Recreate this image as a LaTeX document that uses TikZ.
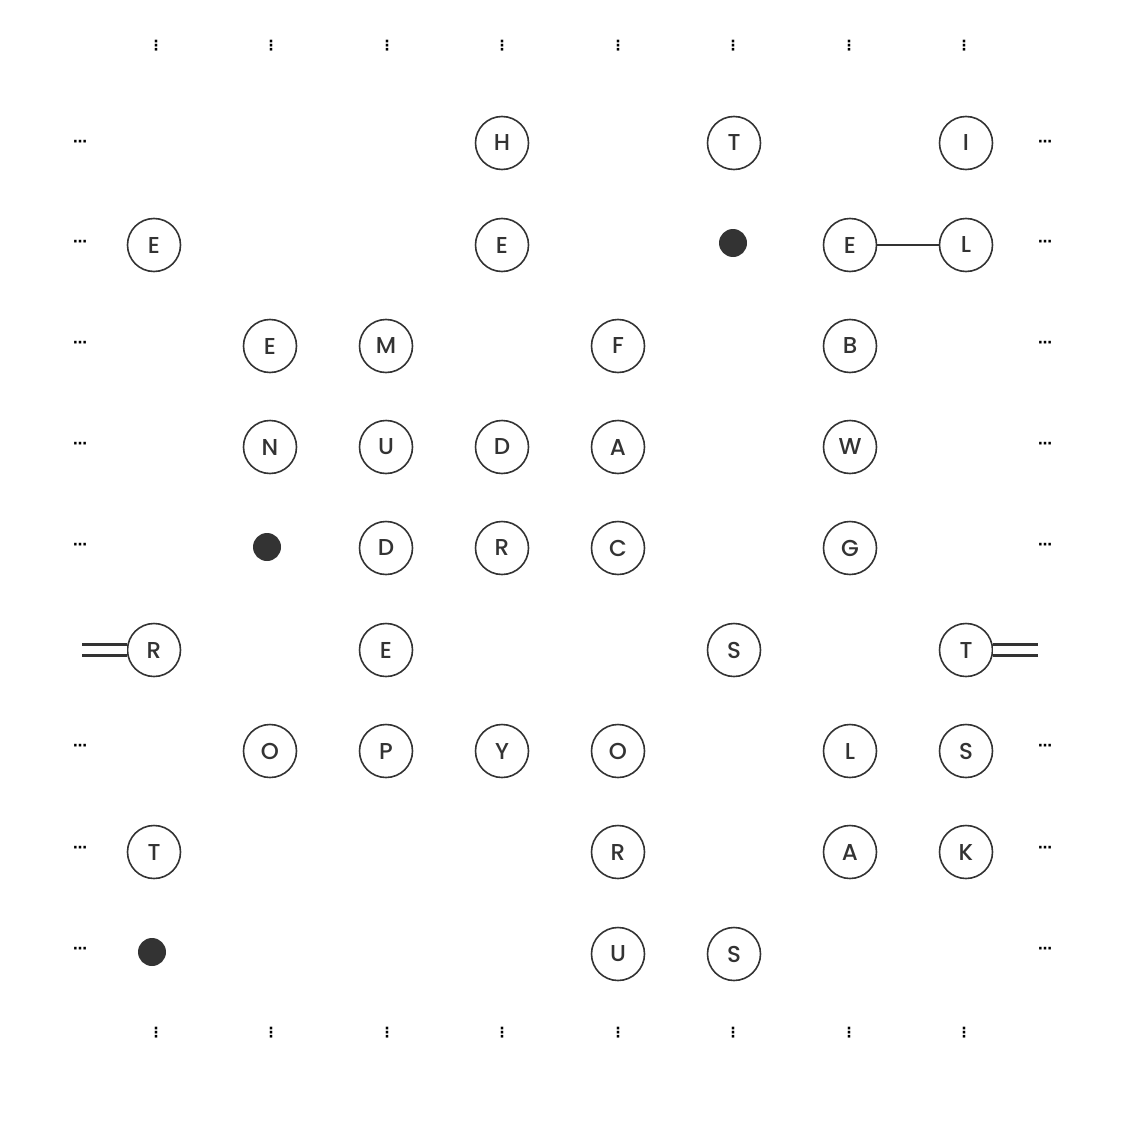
\documentclass[tikz,border=0pt]{standalone}
\usepackage{fontspec}
\setmainfont{Poppins}
\newfontfamily\letterfont{Poppins Medium}
\newfontfamily\dotfont{DejaVu Sans}[BoldFont=* Bold]
\definecolor{ink}{HTML}{333333}
\begin{document}
\begin{tikzpicture}[x=1pt,y=-1pt,
  letter/.style={circle,draw=ink,line width=1.6pt,minimum size=53pt,inner sep=0pt,text=ink,font=\letterfont\fontsize{23}{23}\selectfont},
  blob/.style={circle,fill=ink,minimum size=28pt,inner sep=0pt},
  vdots/.style={inner sep=0pt,text=black,font=\dotfont\bfseries\fontsize{14}{14}\selectfont},
  link/.style={draw=ink,line width=2.4pt},
  twin/.style={draw=ink,double=white,line width=2.6pt,double distance=8.5pt}]
\useasboundingbox (0,0) rectangle (1134,1134);
% top and bottom vertical ellipses
\foreach \i [count=\k from 0] in {156,271,387,502,618,733,849,964}{
  \node[vdots] (vt\k) at (\i,46) {⋮};
  \node[vdots] (vb\k) at (\i,1033) {⋮};
}
% side horizontal ellipses
\foreach \j [count=\k from 0] in {143,243,344,445,546,747,849,950}{
  \node[vdots] (hl\k) at (80,\j) {⋯};
  \node[vdots] (hr\k) at (1045,\j) {⋯};
}
% row 0
\node[letter] (r0c3) at (502,143) {H};
\node[letter] (r0c5) at (734,143) {T};
\node[letter] (r0c7) at (966,143) {I};
% row 1
\node[letter] (r1c0) at (154,245) {E};
\node[letter] (r1c3) at (502,245) {E};
\node[blob] (d1) at (733,243) {};
\node[letter] (r1c6) at (850,245) {E};
\node[letter] (r1c7) at (966,245) {L};
% row 2
\node[letter] (r2c1) at (270,346) {E};
\node[letter] (r2c2) at (386,346) {M};
\node[letter] (r2c4) at (618,346) {F};
\node[letter] (r2c6) at (850,346) {B};
% row 3
\node[letter] (r3c1) at (270,447) {N};
\node[letter] (r3c2) at (386,447) {U};
\node[letter] (r3c3) at (502,447) {D};
\node[letter] (r3c4) at (618,447) {A};
\node[letter] (r3c6) at (850,447) {W};
% row 4
\node[blob] (d2) at (267,547) {};
\node[letter] (r4c2) at (386,548) {D};
\node[letter] (r4c3) at (502,548) {R};
\node[letter] (r4c4) at (618,548) {C};
\node[letter] (r4c6) at (850,548) {G};
% row 5
\node[letter] (r5c0) at (154,650) {R};
\node[letter] (r5c2) at (386,650) {E};
\node[letter] (r5c5) at (734,650) {S};
\node[letter] (r5c7) at (966,650) {T};
% row 6
\node[letter] (r6c1) at (270,751) {O};
\node[letter] (r6c2) at (386,751) {P};
\node[letter] (r6c3) at (502,751) {Y};
\node[letter] (r6c4) at (618,751) {O};
\node[letter] (r6c6) at (850,751) {L};
\node[letter] (r6c7) at (966,751) {S};
% row 7
\node[letter] (r7c0) at (154,852) {T};
\node[letter] (r7c4) at (618,852) {R};
\node[letter] (r7c6) at (850,852) {A};
\node[letter] (r7c7) at (966,852) {K};
% row 8
\node[blob] (d3) at (152,952) {};
\node[letter] (r8c4) at (618,954) {U};
\node[letter] (r8c5) at (734,954) {S};
% connectors
\draw[link] (r1c6) -- (r1c7);
\coordinate (wl) at (82,650);
\coordinate (wr) at (1038,650);
\draw[twin] (wl) -- (r5c0);
\draw[twin] (wr) -- (r5c7);
\end{tikzpicture}
\end{document}
